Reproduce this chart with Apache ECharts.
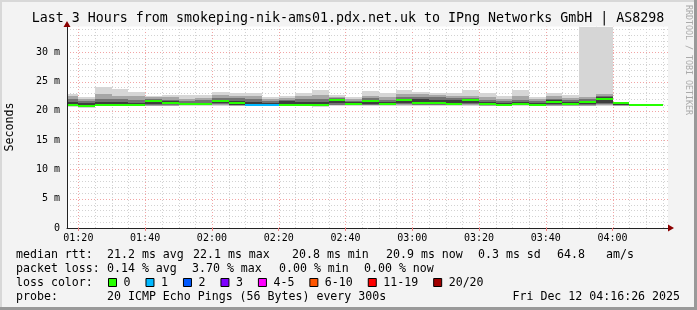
<!DOCTYPE html>
<html><head><meta charset="utf-8">
<script src="https://cdn.jsdelivr.net/npm/echarts@6/dist/echarts.min.js"></script>
<style>html,body{margin:0;padding:0;background:#f3f3f3}#c{width:697px;height:310px}</style>
</head><body><div id="c"></div><script>
// ---- data ----
const binTimes = ['01:15','01:20','01:25','01:30','01:35','01:40','01:45','01:50','01:55','02:00','02:05','02:10','02:15','02:20','02:25','02:30','02:35','02:40','02:45','02:50','02:55','03:00','03:05','03:10','03:15','03:20','03:25','03:30','03:35','03:40','03:45','03:50','03:55','04:00','04:05','04:10'];
const median = [21.0,20.8,21.0,21.0,21.0,21.7,21.35,21.15,21.15,21.7,21.35,21.0,21.0,21.05,21.05,20.95,21.8,21.2,21.65,21.15,21.85,21.33,21.33,21.15,21.8,21.1,21.05,21.15,21.05,21.5,21.1,21.5,22.1,21.35,21.05,20.95];
const lossCount = [0,0,0,0,0,0,0,0,0,0,0,1,1,0,0,0,0,0,0,0,0,0,0,0,0,0,0,0,0,0,0,0,0,0,0,0];
// smoke layers (ms): outermost s1 (min..max) to innermost s4
const s1hi = [22.9,22.4,24.0,23.7,23.2,22.5,22.7,22.7,22.7,23.2,23.0,23.0,22.4,22.5,23.1,23.5,22.7,22.4,23.4,23.0,23.5,23.25,23.1,23.0,23.5,23.0,22.5,23.5,22.4,23.0,22.7,34.4,34.4,21.35,null,null];
const s2hi = [22.5,22.0,22.9,22.6,22.5,22.3,22.3,22.1,22.2,22.7,22.6,22.6,22.0,22.2,22.6,22.7,22.4,22.0,22.6,22.4,22.8,22.8,22.7,22.6,22.6,22.4,22.1,22.6,22.0,22.5,22.2,22.4,22.8,21.35,null,null];
const s3hi = [22.1,21.7,22.1,22.0,21.9,22.0,21.9,21.7,21.8,22.2,22.2,22.0,21.6,21.9,22.0,22.0,22.2,21.7,22.2,21.9,22.4,22.4,22.3,22.2,22.2,21.8,21.7,21.9,21.7,22.1,21.8,22.0,22.5,21.35,null,null];
const s4hi = [21.55,21.3,21.5,21.5,21.4,21.9,21.6,21.4,21.4,21.9,21.7,21.5,21.3,21.6,21.5,21.5,22.0,21.45,21.9,21.5,22.1,22.0,21.9,21.8,22.0,21.5,21.4,21.5,21.4,21.8,21.5,21.75,22.3,21.35,null,null];
const s4lo = [20.95,20.75,20.95,20.95,20.95,21.2,21.1,21.05,21.05,21.3,21.0,20.95,20.95,21.0,21.0,20.9,21.3,21.05,21.2,21.05,21.3,21.1,21.1,21.05,21.3,21.0,21.0,21.05,21.0,21.1,21.0,21.1,21.3,20.95,null,null];
const s3lo = [20.9,20.7,20.9,20.9,20.9,21.0,21.0,21.0,21.0,21.1,20.95,20.9,20.9,20.95,20.95,20.85,21.05,21.0,21.0,21.0,21.1,21.0,21.0,21.0,21.1,20.95,20.95,21.0,20.95,21.0,20.95,21.0,21.1,20.92,null,null];
const s2lo = [20.8,20.65,20.85,20.85,20.85,20.9,20.9,20.95,20.95,21.0,20.9,20.85,20.85,20.9,20.9,20.75,20.95,20.95,20.95,20.95,21.0,20.95,20.95,20.95,21.0,20.9,20.9,20.95,20.9,20.9,20.9,20.9,21.0,20.9,null,null];
const s1lo = [20.7,20.55,20.75,20.75,20.75,20.8,20.8,20.85,20.9,20.85,20.85,20.8,20.8,20.8,20.8,20.65,20.85,20.85,20.85,20.85,20.9,20.9,20.9,20.9,20.9,20.85,20.8,20.85,20.8,20.8,20.85,20.8,20.9,20.85,null,null];
const xTickLabels = ['01:20','01:40','02:00','02:20','02:40','03:00','03:20','03:40','04:00'];
const yTickLabels = ['0','5 m','10 m','15 m','20 m','25 m','30 m'];
const lossLabels = ['0','1','2','3','4-5','6-10','11-19','20/20'];
const lossColors = ['#26ff00','#00b8ff','#0059ff','#7e00ff','#ff00ff','#ff5500','#ff0000','#a10000'];
const lossUpper = [0,1,2,3,5,10,19,20];
const statRtt = [['median rtt:',16],['21.2 ms avg',107],['22.1 ms max',193],['20.8 ms min',292],['20.9 ms now',386],['0.3 ms sd',478],['64.8',557],['am/s',606]];
const statLoss = [['packet loss:',16],['0.14 % avg',107],['3.70 % max',192],['0.00 % min',279],['0.00 % now',364]];
const titleText = 'Last 3 Hours from smokeping-nik-ams01.pdx.net.uk to IPng Networks GmbH | AS8298';
const probeText = '20 ICMP Echo Pings (56 Bytes) every 300s';
const dateText = 'Fri Dec 12 04:16:26 2025';

// ---- build ----
const toMin = s => (+s.slice(0,2))*60 + (+s.slice(3));
const xTickValues = xTickLabels.map(toMin);
const X_MIN = 76.6, X_MAX = 256.6, Y_MAX = 34.4;
const smokeColors = ['#d6d6d6','#a6a6a6','#727272','#3e3e3e'];
const MONO = '"DejaVu Sans Mono", monospace';

const smokeData = [], medData = [];
binTimes.forEach((t, i) => {
  const a = toMin(t), b = a + 5;
  if (s1hi[i] != null) smokeData.push([a, b, s1lo[i], s1hi[i], s2lo[i], s2hi[i], s3lo[i], s3hi[i], s4lo[i], s4hi[i]]);
  medData.push([a, b, median[i], lossCount[i]]);
});
const gridData = [];
for (let t = 80; t <= 255; t += 5) gridData.push([t, t % 20 === 0 ? 1 : 0, 0]);
for (let v = 1; v <= 34; v++) gridData.push([v, v % 5 === 0 ? 1 : 0, 1]);

function lossColor(n) { for (let k = 0; k < lossUpper.length; k++) if (n <= lossUpper[k]) return lossColors[k]; return lossColors[7]; }

const chart = echarts.init(document.getElementById('c'), null, {renderer: 'canvas'});
const graphics = [];
// frame
graphics.push({type: 'rect', shape: {x: 0, y: 0, width: 697, height: 2}, style: {fill: '#d8d8d8'}, z: 100});
graphics.push({type: 'rect', shape: {x: 0, y: 0, width: 2, height: 310}, style: {fill: '#d8d8d8'}, z: 100});
graphics.push({type: 'rect', shape: {x: 0, y: 307, width: 697, height: 3}, style: {fill: '#999999'}, z: 100});
graphics.push({type: 'rect', shape: {x: 694, y: 0, width: 3, height: 310}, style: {fill: '#999999'}, z: 100});
// title
graphics.push({type: 'text', x: 348, y: 19, style: {text: titleText, fill: '#000', font: '13.3px ' + MONO, align: 'center', verticalAlign: 'middle'}, z: 100});
// y name
graphics.push({type: 'text', x: 10, y: 127, rotation: Math.PI / 2, style: {text: 'Seconds', fill: '#000', font: '11.6px ' + MONO, align: 'center', verticalAlign: 'middle'}, z: 100});
// watermark
graphics.push({type: 'text', x: 688, y: 60, rotation: -Math.PI / 2, style: {text: 'RRDTOOL / TOBI OETIKER', fill: '#aaaaaa', font: '8.3px ' + MONO, align: 'center', verticalAlign: 'middle'}, z: 100});
// arrows
graphics.push({type: 'polygon', shape: {points: [[668, 224.5], [674, 228], [668, 231.5]]}, style: {fill: '#8b0000'}, z: 100});
graphics.push({type: 'polygon', shape: {points: [[63.5, 27], [67, 21], [70.5, 27]]}, style: {fill: '#8b0000'}, z: 100});
// legend lines
statRtt.forEach(([t, x]) => graphics.push({type: 'text', x, y: 254.5, style: {text: t, fill: '#000', font: '11.6px ' + MONO, verticalAlign: 'middle'}, z: 100}));
statLoss.forEach(([t, x]) => graphics.push({type: 'text', x, y: 268.5, style: {text: t, fill: '#000', font: '11.6px ' + MONO, verticalAlign: 'middle'}, z: 100}));
graphics.push({type: 'text', x: 16, y: 282.5, style: {text: 'loss color:', fill: '#000', font: '11.6px ' + MONO, verticalAlign: 'middle'}, z: 100});
let bx = 108;
lossLabels.forEach((lab, k) => {
  graphics.push({type: 'rect', shape: {x: bx + 0.5, y: 278.5, width: 8, height: 8}, style: {fill: lossColors[k], stroke: '#000', lineWidth: 1}, z: 100});
  graphics.push({type: 'text', x: bx + 15.5, y: 282.5, style: {text: lab, fill: '#000', font: '11.6px ' + MONO, verticalAlign: 'middle'}, z: 100});
  bx = bx + 15.5 + lab.length * 6.98 + 15;
});
graphics.push({type: 'text', x: 16, y: 296.5, style: {text: 'probe:', fill: '#000', font: '11.6px ' + MONO, verticalAlign: 'middle'}, z: 100});
graphics.push({type: 'text', x: 107, y: 296.5, style: {text: probeText, fill: '#000', font: '11.6px ' + MONO, verticalAlign: 'middle'}, z: 100});
graphics.push({type: 'text', x: 680, y: 296.5, style: {text: dateText, fill: '#000', font: '11.6px ' + MONO, align: 'right', verticalAlign: 'middle'}, z: 100});

const option = {
  animation: false,
  backgroundColor: '#f3f3f3',
  grid: {left: 67, top: 26.5, width: 601, height: 201.5, show: true, backgroundColor: '#ffffff', borderWidth: 0},
  xAxis: {
    type: 'value', min: X_MIN, max: X_MAX, z: 10,
    axisLine: {show: true, onZero: false, lineStyle: {color: '#222', width: 1}},
    axisTick: {show: true, customValues: xTickValues, length: 3, inside: false, lineStyle: {color: '#f08080'}},
    splitLine: {show: false},
    axisLabel: {customValues: xTickValues, margin: 5, fontFamily: 'DejaVu Sans Mono', fontSize: 10, color: '#000',
      formatter: v => { const i = xTickValues.indexOf(Math.round(v)); return i >= 0 ? xTickLabels[i] : ''; }}
  },
  yAxis: {
    type: 'value', min: 0, max: Y_MAX, interval: 5, z: 10,
    axisLine: {show: true, lineStyle: {color: '#222', width: 1}},
    axisTick: {show: false},
    splitLine: {show: false},
    axisLabel: {margin: 7, fontFamily: 'DejaVu Sans Mono', fontSize: 10, color: '#000',
      formatter: v => { const i = Math.round(v / 5); return (Math.abs(v - i * 5) < 1e-6 && i < yTickLabels.length) ? yTickLabels[i] : ''; }}
  },
  series: [
    {
      type: 'custom', name: 'grid', z: 1, clip: true, silent: true,
      data: gridData, encode: {x: 0, y: 0},
      renderItem: (params, api) => {
        const v = api.value(0), major = api.value(1), horiz = api.value(2);
        const col = major ? '#f2a4a4' : '#d2d2d2';
        let shape;
        if (!horiz) {
          const x = Math.round(api.coord([v, 0])[0]) + 0.5;
          shape = {x1: x, y1: api.coord([v, 0])[1], x2: x, y2: api.coord([v, Y_MAX])[1]};
        } else {
          const y = Math.round(api.coord([X_MIN, v])[1]) + 0.5;
          shape = {x1: api.coord([X_MIN, v])[0], y1: y, x2: api.coord([X_MAX, v])[0], y2: y};
        }
        return {type: 'line', shape, style: {stroke: col, lineWidth: 1, lineDash: [1, 2]}};
      }
    },
    {
      type: 'custom', name: 'smoke', z: 2, clip: true, silent: true,
      data: smokeData, encode: {x: [0, 1], y: [2, 3]},
      renderItem: (params, api) => {
        const x0 = Math.round(api.coord([api.value(0), 0])[0]);
        const x1 = Math.round(api.coord([api.value(1), 0])[0]);
        const children = [];
        for (let L = 0; L < 4; L++) {
          const lo = api.value(2 + 2 * L), hi = api.value(3 + 2 * L);
          const yh = Math.round(api.coord([api.value(0), hi])[1]);
          const yl = Math.round(api.coord([api.value(0), lo])[1]);
          children.push({type: 'rect', shape: {x: x0, y: yh, width: x1 - x0, height: Math.max(1, yl - yh)}, style: {fill: smokeColors[L]}});
        }
        return {type: 'group', children};
      }
    },
    {
      type: 'custom', name: 'median', z: 3, clip: true, silent: true,
      data: medData, encode: {x: [0, 1], y: 2},
      renderItem: (params, api) => {
        const x0 = Math.round(api.coord([api.value(0), 0])[0]);
        const x1 = Math.round(api.coord([api.value(1), 0])[0]);
        const ym = Math.round(api.coord([api.value(0), api.value(2)])[1]);
        return {type: 'rect', shape: {x: x0, y: ym - 1, width: x1 - x0, height: 2}, style: {fill: lossColor(api.value(3))}};
      }
    }
  ],
  graphic: graphics
};
chart.setOption(option);
</script></body></html>
